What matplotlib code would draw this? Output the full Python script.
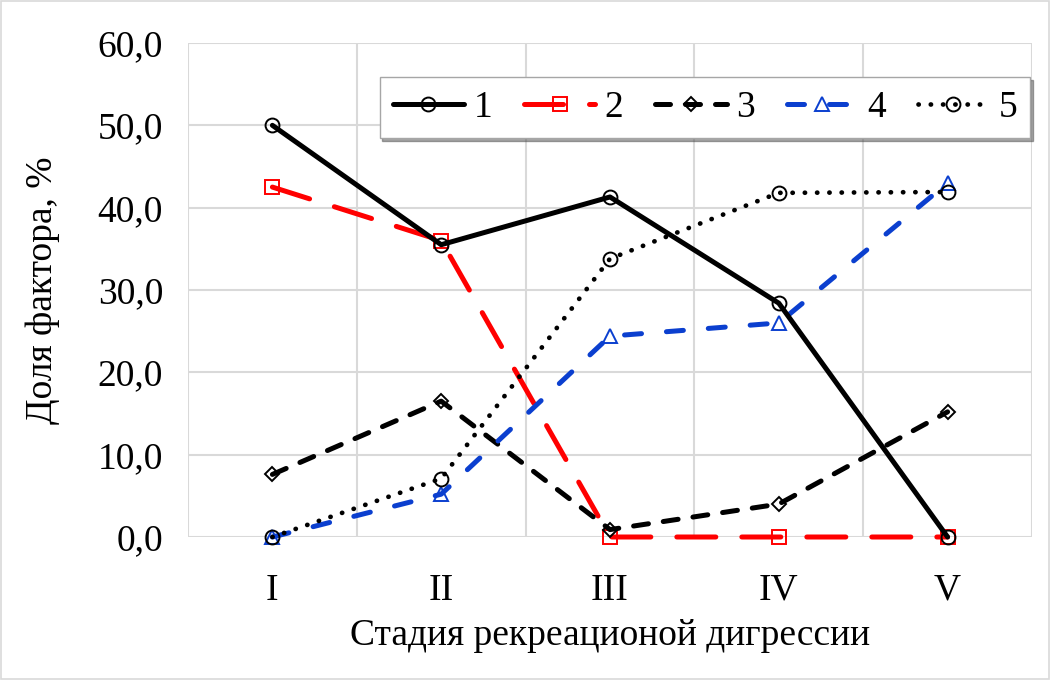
import matplotlib
matplotlib.use("Agg")
import matplotlib.pyplot as plt
from matplotlib.patches import Rectangle

plt.rcParams['font.family'] = ['Liberation Serif', 'DejaVu Serif']

categories = ["I", "II", "III", "IV", "V"]
s1 = [50.0, 35.5, 41.3, 28.4, 0.0]
s2 = [42.5, 36.0, 0.0, 0.0, 0.0]
s3 = [7.6, 16.5, 0.9, 4.0, 15.2]
s4 = [0.0, 5.2, 24.4, 26.0, 43.0]
s5 = [0.0, 7.1, 33.8, 41.8, 41.9]
series_labels = ["1", "2", "3", "4", "5"]
yticks = [0, 10, 20, 30, 40, 50, 60]

fig = plt.figure(figsize=(10.51, 6.8), dpi=100)
ax = fig.add_axes([188/1051, 1-537/680, 844/1051, 494/680])

x = list(range(1, len(categories)+1))
lw = 3.6
ms = 10
mew = 1.4
blue = '#0B3FCF'

ax.plot(x, s1, color='black', lw=lw, marker='o', ms=ms, mfc='none', mec='black', mew=mew,
        solid_capstyle='round', label=series_labels[0], clip_on=False, zorder=5)
ax.plot(x, s2, color='#FF0000', lw=lw, marker='s', ms=ms-0.5, mfc='none', mec='#FF0000', mew=mew,
        dashes=(7.8, 5.2), dash_capstyle='round', label=series_labels[1], clip_on=False, zorder=4)
ax.plot(x, s3, color='black', lw=lw, marker='D', ms=ms-3, mfc='none', mec='black', mew=mew,
        dashes=(3, 3), dash_capstyle='round', label=series_labels[2], clip_on=False, zorder=4)
ax.plot(x, s4, color=blue, lw=lw, marker='^', ms=ms, mfc='none', mec=blue, mew=mew,
        dashes=(3.4, 5), dash_capstyle='round', label=series_labels[3], clip_on=False, zorder=4)
ax.plot(x, s5, color='black', lw=3.4, marker='o', ms=ms, mfc='none', mec='black', mew=mew,
        dashes=(0.05, 2.55), dash_capstyle='round', label=series_labels[4], clip_on=False, zorder=4)

ax.set_xlim(0.5, len(categories)+0.5)
ax.set_ylim(0, 60)
ax.set_xticks(x)
ax.set_xticklabels(categories)
ax.set_xticks([i+0.5 for i in range(0, len(categories)+1)], minor=True)
ax.set_yticks(yticks)
ax.set_yticklabels([f"{v:.1f}".replace('.', ',') for v in yticks])
ax.tick_params(axis='both', which='both', length=0, labelsize=27)
ax.tick_params(axis='y', pad=18)
ax.tick_params(axis='x', pad=26)
ax.grid(True, axis='y', which='major', color='#D9D9D9', lw=1.5)
ax.grid(True, axis='x', which='minor', color='#D9D9D9', lw=1.5)
ax.grid(False, axis='x', which='major')
ax.set_axisbelow(True)
for sp in ax.spines.values():
    sp.set_visible(False)

ax.set_xlabel("Стадия рекреационой дигрессии", fontsize=27, labelpad=8)
ax.set_ylabel("Доля фактора, %", fontsize=27, labelpad=27)

leg = ax.legend(loc='upper right', bbox_to_anchor=(0.998, 0.931), ncol=5, fontsize=27,
                frameon=True, fancybox=False, shadow=True, edgecolor='#A6A6A6',
                framealpha=1, handlelength=1.9, handletextpad=0.25, columnspacing=0.85,
                borderpad=0.35, borderaxespad=0)
leg.get_frame().set_linewidth(1.0)

fig.patches.append(Rectangle((0.001, 0.001), 0.997, 0.997, transform=fig.transFigure,
                             fill=False, edgecolor='#D9D9D9', lw=1.2))

fig.savefig("out.png", dpi=100)
